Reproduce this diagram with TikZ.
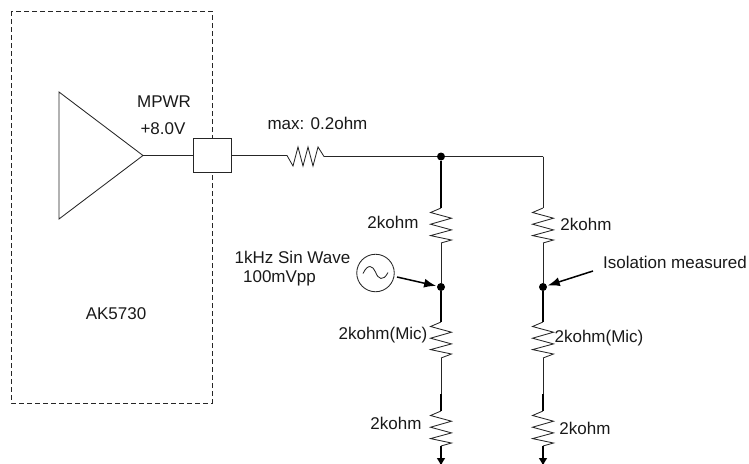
\documentclass[tikz,border=0pt]{standalone}
\usepackage{fontspec}
\setmainfont{Liberation Sans}
\usetikzlibrary{arrows.meta}
\tikzset{
  wire/.style={draw=black!85,line width=0.85pt},
  thickwire/.style={draw=black,line width=1.9pt},
  lbl/.style={inner sep=0pt,font=\fontsize{17}{19}\selectfont,text=black!90},
  dot/.style={circle,fill=black,inner sep=0pt,minimum size=8pt},
  probe/.style={draw=black,line width=1.5pt,shorten >=5pt,-{Latex[length=12pt,width=9pt]}},
  gnd/.style={draw=black,line width=1.5pt,-{Latex[length=8pt,width=9pt]}}
}
\newcommand{\vzig}[2]{% start coordinate name, end coordinate name
  \draw[wire,line join=miter] (#1) -- ++(-10.5,4.5) -- ++(21,5.7) -- ++(-21,6) -- ++(21,5.7) -- ++(-21,5.7) -- ++(21,4.4) -- (#2);}
\begin{document}
\begin{tikzpicture}[x=1pt,y=-1pt]
\useasboundingbox (0,0) rectangle (749,463);
\draw[draw=black!85,line width=0.85pt,dash pattern=on 5pt off 3pt] (11,11) rectangle (212,403);
% amp
\coordinate (ampA) at (59,92);
\coordinate (ampB) at (59,219);
\coordinate (ampO) at (143,155.5);
\draw[wire] (ampA) -- (ampO) -- (ampB) -- cycle;
\node[draw=black!85,fill=white,line width=0.85pt,minimum width=38pt,minimum height=34.5pt,inner sep=0pt] (pad) at (212.5,155.5) {};
\draw[wire] (ampO) -- (pad.west);
% series resistor
\coordinate (rsA) at (287,155.5);
\coordinate (rsB) at (324,156.5);
\node[dot] (j1) at (441,156.5) {};
\coordinate (jr) at (543,156.5);
\draw[wire] (pad.east) -- (rsA) -- (293,166) -- (298,147) -- (303,166) -- (308,147) -- (313,166) -- (318,147) -- (rsB) -- (j1) -- (jr);
% left branch
\coordinate (r1a) at (441,208);
\coordinate (r1b) at (441,243);
\node[dot] (j2) at (441,287) {};
\coordinate (r2a) at (441,322);
\coordinate (r2b) at (441,358);
\coordinate (r3a) at (441,411);
\coordinate (r3b) at (441,446);
\coordinate (g1) at (441,466);
\draw[thickwire] (j1) -- (r1a);
\vzig{r1a}{r1b}
\draw[wire] (r1b) -- (j2);
\draw[thickwire] (j2) -- (r2a);
\vzig{r2a}{r2b}
\draw[wire] (r2b) -- (441,394);
\draw[draw=black,line width=1.3pt] (441,394) -- (r3a);
\vzig{r3a}{r3b}
\draw[gnd] (r3b) -- (g1);
% right branch
\coordinate (q1a) at (543,208);
\coordinate (q1b) at (543,243);
\node[dot] (j3) at (543,287) {};
\coordinate (q2a) at (543,322);
\coordinate (q2b) at (543,358);
\coordinate (q3a) at (543,411);
\coordinate (q3b) at (543,446);
\coordinate (g2) at (543,466);
\draw[wire] (jr) -- (q1a);
\vzig{q1a}{q1b}
\draw[wire] (q1b) -- (j3);
\draw[thickwire] (j3) -- (q2a);
\vzig{q2a}{q2b}
\draw[wire] (q2b) -- (543,394);
\draw[draw=black,line width=1.3pt] (543,394) -- (q3a);
\vzig{q3a}{q3b}
\draw[gnd] (q3b) -- (g2);
% source
\node[circle,draw=black!85,line width=0.85pt,minimum size=37.5pt,inner sep=0pt] (src) at (375.5,273) {};
\draw[wire] (363,273.5) .. controls (368,263) and (373,266) .. (375.5,272) .. controls (378,279) and (383,282) .. (388,272.5);
\coordinate (srcOut) at (397,277);
\coordinate (iso) at (593,271);
\draw[probe] (srcOut) -- (j2.center);
\draw[probe] (iso) -- (j3.center);
% labels
\node[lbl] (tMPWR) at (164,102) {MPWR};
\node[lbl] (tV) at (163,129) {+8.0V};
\node[lbl] (tmax) at (317.5,123) {max: 0.2ohm};
\node[lbl] (t1) at (393,222) {2kohm};
\node[lbl] (t2) at (586,224) {2kohm};
\node[lbl] (t3) at (292.5,257) {1kHz Sin Wave};
\node[lbl] (t4) at (279.5,278) {100mVpp};
\node[lbl] (t5) at (675,262) {Isolation measured};
\node[lbl] (t6) at (116,314) {AK5730};
\node[lbl] (t7) at (383,335) {2kohm(Mic)};
\node[lbl] (t8) at (599,338) {2kohm(Mic)};
\node[lbl] (t9) at (396,423) {2kohm};
\node[lbl] (t10) at (585,428) {2kohm};
\end{tikzpicture}
\end{document}
